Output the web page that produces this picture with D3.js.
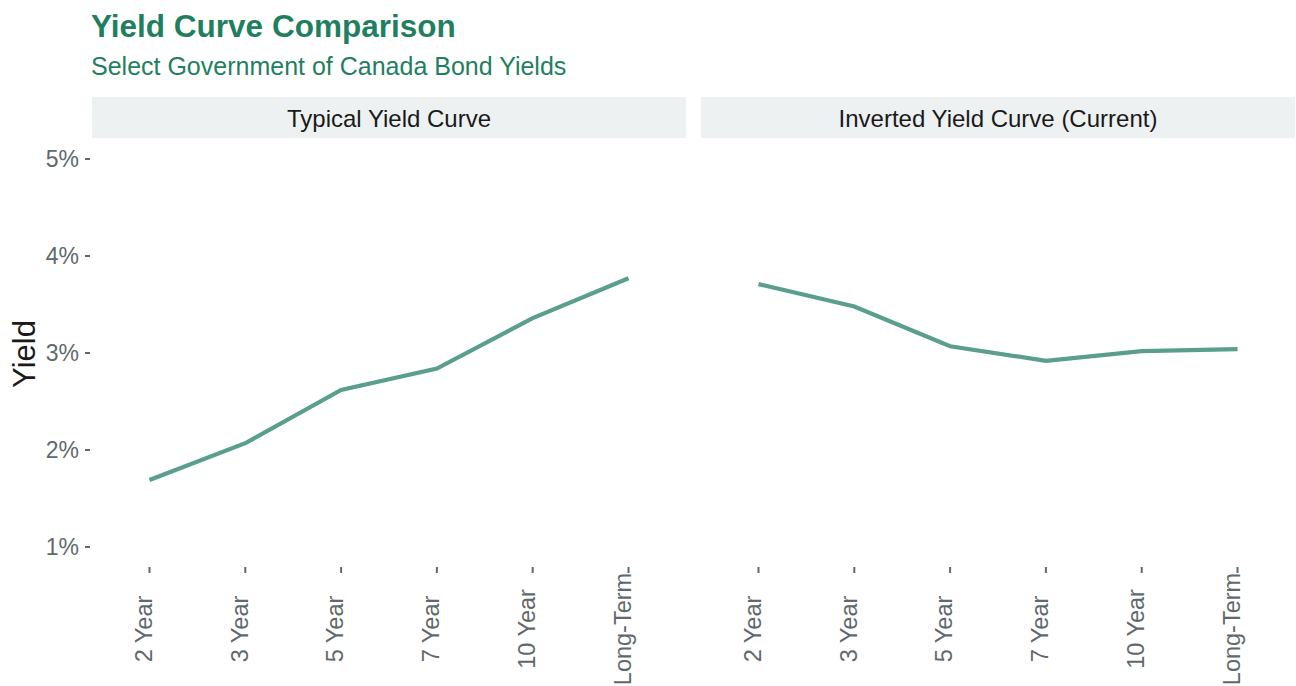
<!DOCTYPE html>
<html>
<head>
<meta charset="utf-8">
<script src="https://cdn.jsdelivr.net/npm/d3@7"></script>
<style>
  body { margin: 0; background: #fff; }
  text { font-family: "Liberation Sans", Arial, sans-serif; }
</style>
</head>
<body>
<script>
var maturities = ['2 Year', '3 Year', '5 Year', '7 Year', '10 Year', 'Long-Term'];
var panels = ['Typical Yield Curve', 'Inverted Yield Curve (Current)'];
var typicalYields = [1.69, 2.07, 2.62, 2.84, 3.36, 3.77];
var invertedYields = [3.71, 3.48, 3.07, 2.92, 3.02, 3.04];
var yTicks = [1, 2, 3, 4, 5];

var w = 1296;
var h = 686;
var green = '#1f7f5f';
var lineColor = '#5a9e8e';
var axisGray = '#5f696c';

var svg = d3
  .select('body')
  .append('svg')
  .attr('width', w)
  .attr('height', h);

svg
  .append('text')
  .attr('x', 91)
  .attr('y', 37)
  .attr('fill', green)
  .attr('font-size', 31.5)
  .attr('font-weight', 'bold')
  .text('Yield Curve Comparison');

svg
  .append('text')
  .attr('x', 91)
  .attr('y', 75)
  .attr('fill', green)
  .attr('font-size', 25)
  .text('Select Government of Canada Bond Yields');

var yScale = d3.scaleLinear().domain([1, 5]).range([547, 159]);

// y axis (shared, left)
var yAxis = svg.append('g');
yAxis
  .selectAll('line')
  .data(yTicks)
  .enter()
  .append('line')
  .attr('x1', 85)
  .attr('x2', 90)
  .attr('y1', d => yScale(d))
  .attr('y2', d => yScale(d))
  .attr('stroke', axisGray)
  .attr('stroke-width', 2);

yAxis
  .selectAll('text')
  .data(yTicks)
  .enter()
  .append('text')
  .attr('x', 79)
  .attr('y', d => yScale(d))
  .attr('dy', '0.36em')
  .attr('text-anchor', 'end')
  .attr('font-size', 23)
  .attr('fill', axisGray)
  .text(d => d + '%');

svg
  .append('text')
  .attr('transform', 'translate(35,354) rotate(-90)')
  .attr('text-anchor', 'middle')
  .attr('font-size', 31)
  .attr('fill', '#1a1a1a')
  .text('Yield');

var panelData = [typicalYields, invertedYields];
var panelX = [92, 701];
var panelW = 594;

panels.forEach(function(name, i) {
  var g = svg.append('g').attr('transform', `translate(${panelX[i]},0)`);

  var xScale = d3
    .scalePoint()
    .domain(maturities)
    .range([0, panelW])
    .padding(0.6);

  g.append('rect')
    .attr('x', 0)
    .attr('y', 97)
    .attr('width', panelW)
    .attr('height', 41)
    .attr('fill', '#edf1f2');

  g.append('text')
    .attr('x', panelW / 2)
    .attr('y', 118)
    .attr('dy', '0.36em')
    .attr('text-anchor', 'middle')
    .attr('font-size', 24)
    .attr('fill', '#1a1a1a')
    .text(name);

  g.selectAll('.xtick')
    .data(maturities)
    .enter()
    .append('line')
    .attr('class', 'xtick')
    .attr('x1', d => xScale(d))
    .attr('x2', d => xScale(d))
    .attr('y1', 567)
    .attr('y2', 573)
    .attr('stroke', axisGray)
    .attr('stroke-width', 2);

  g.selectAll('.xlab')
    .data(maturities)
    .enter()
    .append('text')
    .attr('class', 'xlab')
    .attr('transform', d => `translate(${xScale(d)},629) rotate(-90)`)
    .attr('dy', '0.1em')
    .attr('text-anchor', 'middle')
    .attr('font-size', 23.5)
    .attr('fill', axisGray)
    .text(d => d);

  var line = d3
    .line()
    .x((d, j) => xScale(maturities[j]))
    .y(d => yScale(d));

  g.append('path')
    .datum(panelData[i])
    .attr('d', line)
    .attr('fill', 'none')
    .attr('stroke', lineColor)
    .attr('stroke-width', 4.2);
});
</script>
</body>
</html>
